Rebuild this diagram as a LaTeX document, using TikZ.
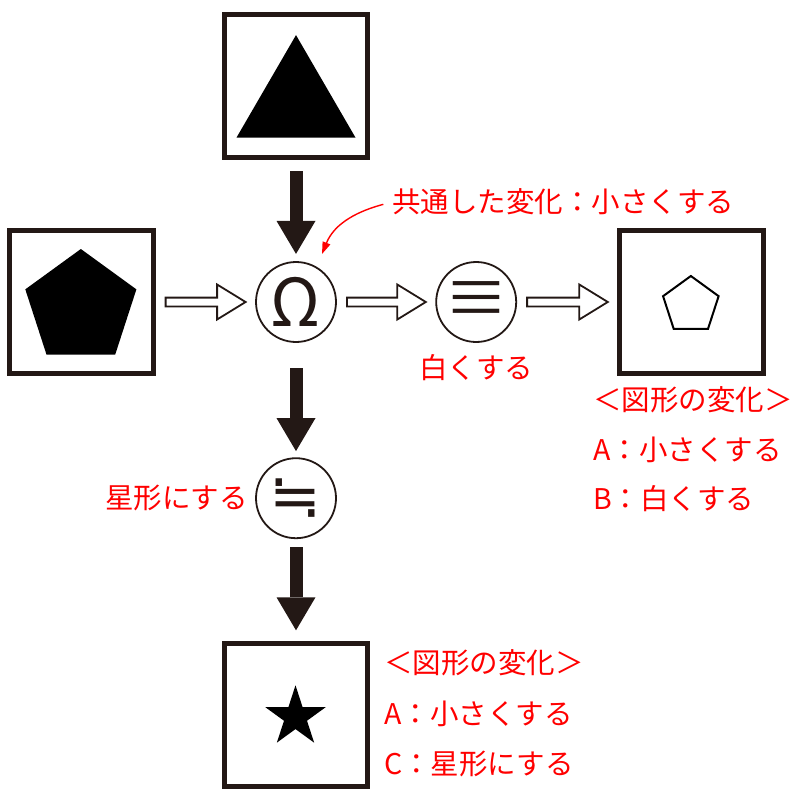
\documentclass[tikz,border=0pt]{standalone}
\usepackage{fontspec}
\setmainfont{Noto Sans CJK JP}
\newfontfamily\symfont{DejaVu Sans}
\usetikzlibrary{arrows.meta,positioning,calc}
\definecolor{inkblack}{RGB}{35,24,21}

\begin{document}
\begin{tikzpicture}[x=1pt, y=1pt,
    frame/.style={draw=inkblack, line width=5pt, minimum width=143.5pt,
                  minimum height=143pt, inner sep=0pt},
    op/.style={draw=inkblack, circle, line width=1.8pt, minimum size=80pt,
               inner sep=0pt, text=inkblack},
    lbl/.style={text=red, inner sep=0pt, font=\fontsize{28.5}{34}\selectfont,
                text height=25pt, text depth=3.5pt},
    blk/.style={-{Triangle[width=39pt,length=33pt,line width=0pt]},
                line width=13pt, draw=inkblack},
    hollow/.style={draw=inkblack, line width=1.8pt, fill=white,
                   to path={let \p1=(\tikztostart), \p2=(\tikztotarget) in
                     (\x1+10pt,\y1+4.4pt) -- (\x2-38pt,\y1+4.4pt)
                     -- (\x2-38pt,\y1+17.5pt) -- (\x2-9.5pt,\y1)
                     -- (\x2-38pt,\y1-17.5pt) -- (\x2-38pt,\y1-4.4pt)
                     -- (\x1+10pt,\y1-4.4pt) -- cycle}},
    callout/.style={-{Triangle[width=8pt,length=12pt]}, red, line width=1.4pt}
  ]
    \useasboundingbox (0,0) rectangle (800,-800);

    \node[op, font=\fontsize{66}{66}\selectfont] (omega) at (296,-302) {Ω};
    \node[frame, above=101pt of omega]  (tri)   {};
    \node[frame, left=99.5pt of omega]  (pent)  {};
    \node[op, right=98.4pt of omega, font=\fontsize{64}{64}\selectfont] (equiv) {≡};
    \node[frame, right=100.2pt of equiv](small) {};
    \node[op, below=114.4pt of omega, font=\symfont\fontsize{62}{62}\selectfont] (nearly){≒};
    \node[frame, below=102.2pt of nearly](star) {};

    \fill[shift={(tri.center)}] (0,51) -- (-59.5,-51.5) -- (59.5,-51.5) -- cycle;
    \fill[shift={(pent.center)}, shift={(-0.5,-5.4)}]
      (90:58.4) \foreach \a in {162,234,306,18}{ -- (\a:58.4)} -- cycle;
    \draw[line width=2pt, shift={(small.center)}, shift={(-0.7,-3.2)}]
      (90:29.2) \foreach \a in {162,234,306,18}{ -- (\a:29.2)} -- cycle;
    \fill[shift={(star.center)}, shift={(-0.5,-1.7)}]
      (90:31.7) \foreach \a in {90,162,234,306,18}{ -- ({\a+36}:12.1) -- ({\a+72}:31.7)} -- cycle;

    \draw[blk, shorten <=11pt, shorten >=7.2pt] (tri) -- (omega);
    \draw[blk, shorten <=25.2pt, shorten >=6.2pt] (omega) -- (nearly);
    \draw[blk, shorten <=8.2pt, shorten >=11pt] (nearly) -- (star);

    \draw[hollow] (pent.east) to (omega.west);
    \draw[hollow] (omega.east) to (equiv.west);
    \draw[hollow] (equiv.east) to (small.west);

    \node[lbl, anchor=west] (common) at (392,-202) {共通した変化：小さくする};
    \coordinate (hint) at (322,-254);
    \draw[callout, shorten <=9pt] (common.west) to[out=195, in=68] (hint);

    \node[lbl, below=10pt of equiv] (white) {白くする};
    \node[lbl, left=7pt of nearly] (starlbl) {星形にする};

    \node[lbl, anchor=west] (rtitle) at (593,-400) {＜図形の変化＞};
    \node[lbl, below=20.5pt of rtitle.south west, anchor=north west] (ra) {A：小さくする};
    \node[lbl, below=20.5pt of ra.south west, anchor=north west] (rb) {B：白くする};

    \node[lbl, anchor=west] (btitle) at (384,-663) {＜図形の変化＞};
    \node[lbl, below=21.5pt of btitle.south west, anchor=north west] (ba) {A：小さくする};
    \node[lbl, below=21.5pt of ba.south west, anchor=north west] (bc) {C：星形にする};
\end{tikzpicture}
\end{document}
